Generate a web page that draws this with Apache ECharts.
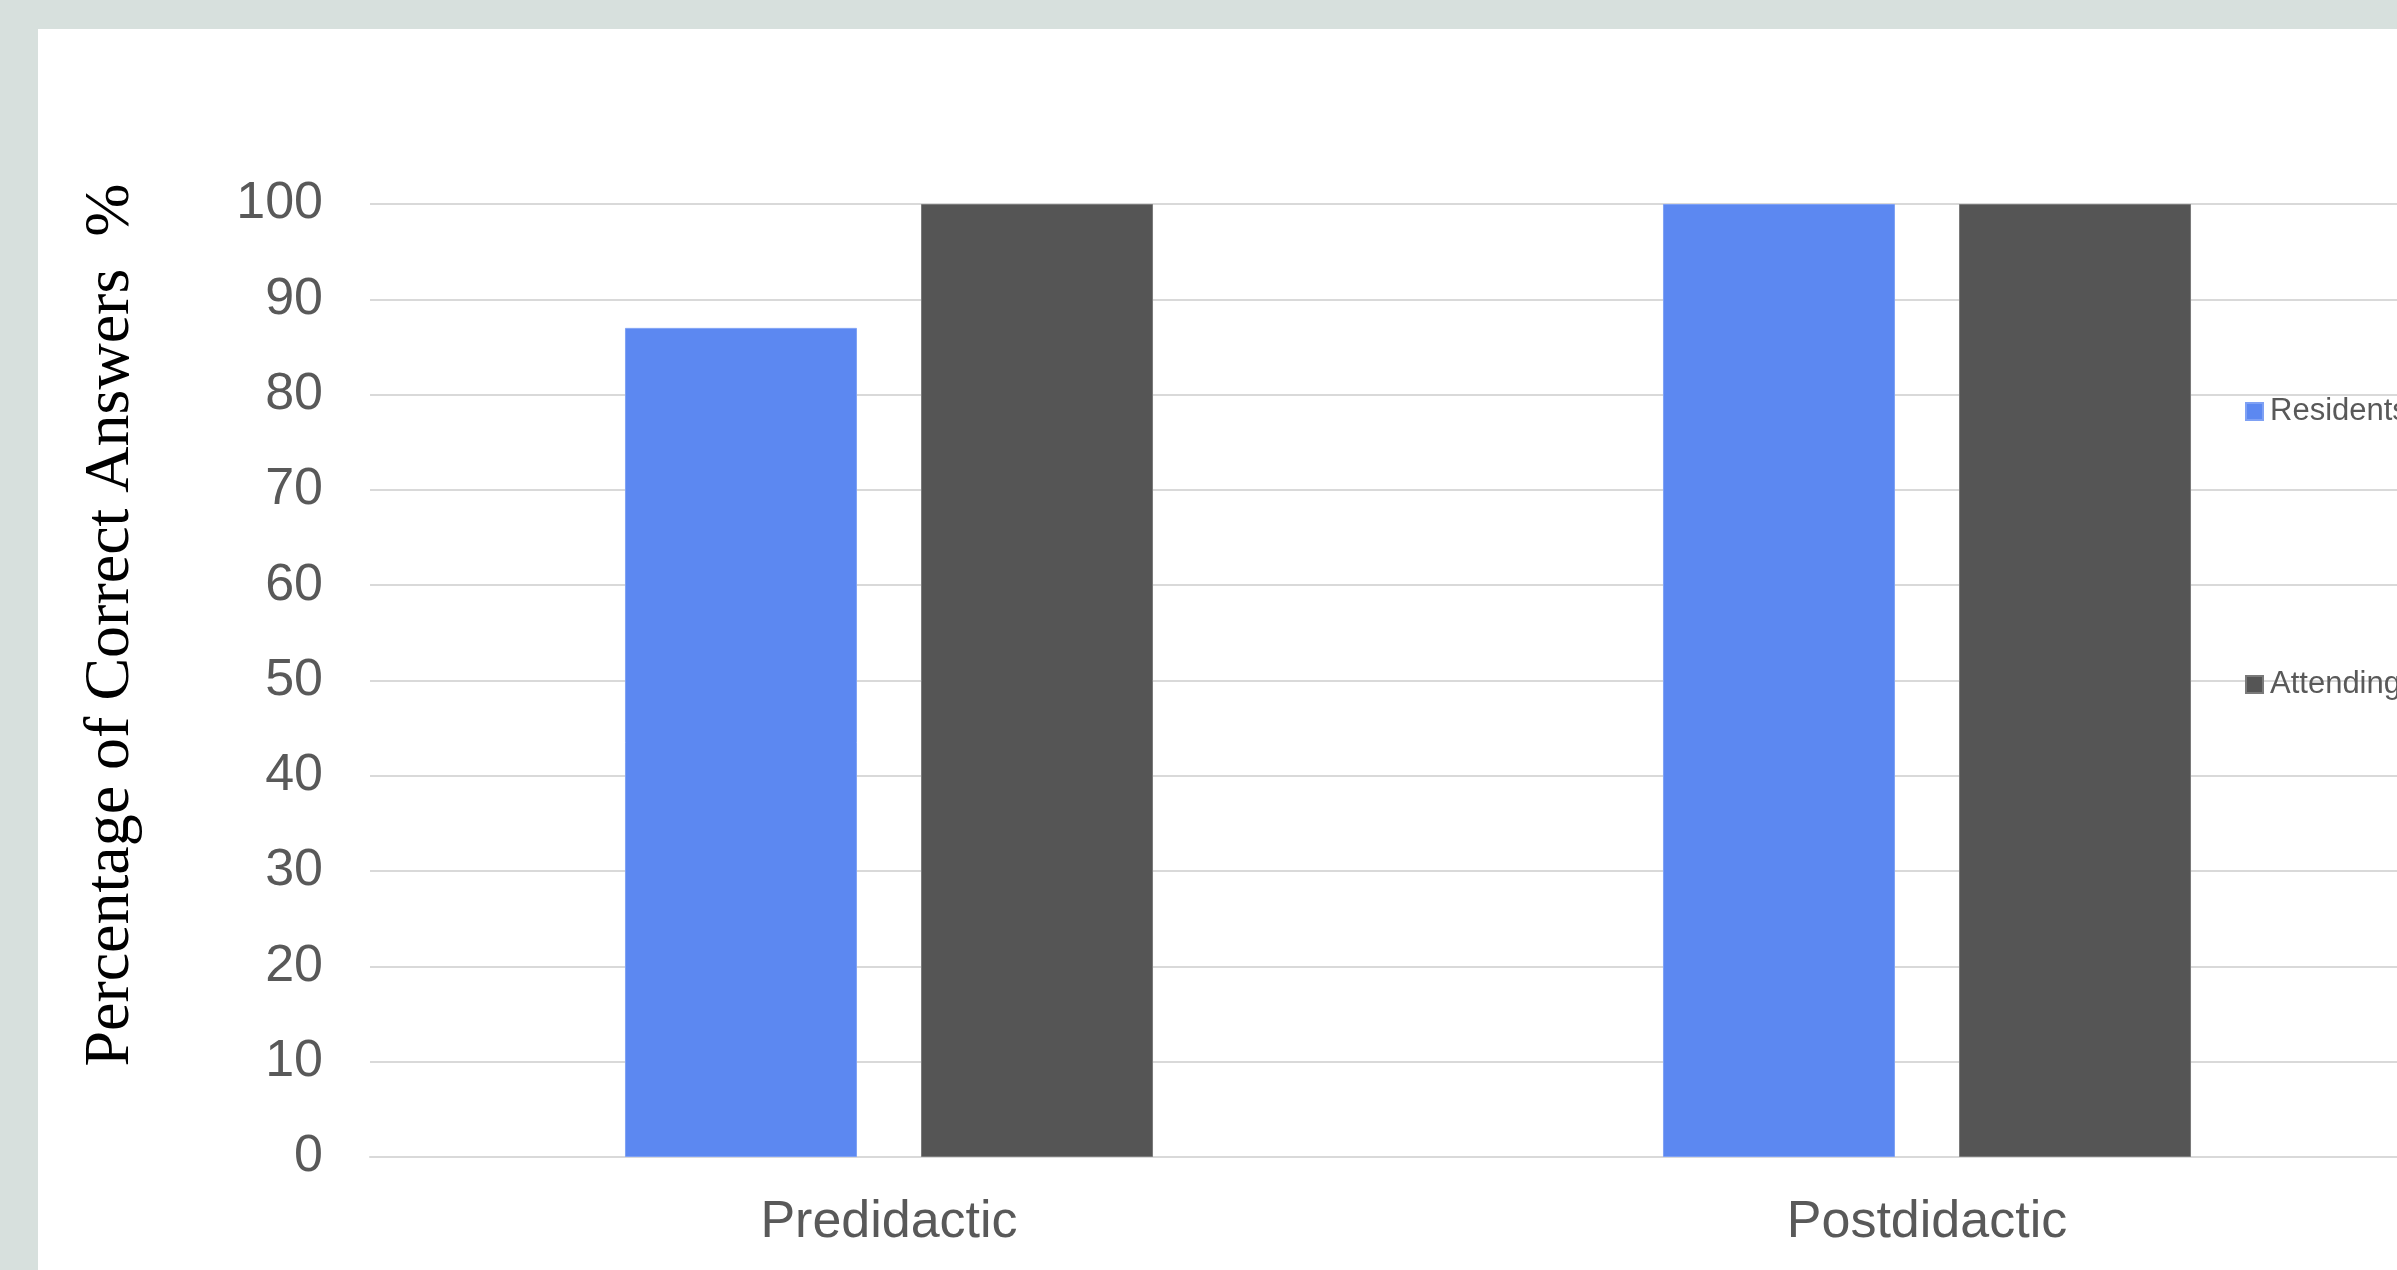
<!DOCTYPE html>
<html>
<head>
<meta charset="utf-8">
<title>Percentage of Correct Answers</title>
<script src="https://cdn.jsdelivr.net/npm/echarts@6/dist/echarts.min.js"></script>
<style>
  html, body { margin: 0; padding: 0; background: #ffffff; }
  #chart { width: 2397px; height: 1270px; }
</style>
</head>
<body>
<div id="chart"></div>
<script>
// Quiz results before and after the didactic session
const categories = ['Predidactic', 'Postdidactic'];
const residents = [87, 100];
const attendings = [100, 100];
const seriesNames = ['Residents', 'Attendings'];
const yTicks = { min: 0, max: 100, interval: 10 };

const SANS = '"Liberation Sans", Arial, Helvetica, sans-serif';
const SERIF = '"Liberation Serif", "Times New Roman", serif';
const LABEL_GREY = '#595959';
const GRID_GREY = '#d9d9d9';

const chart = echarts.init(document.getElementById('chart'), null, { renderer: 'canvas' });

chart.setOption({
  backgroundColor: '#ffffff',
  animation: false,
  graphic: [
    // frame bands along the top and left edges
    { type: 'rect', silent: true, shape: { x: 0, y: 0, width: 2397, height: 29 }, style: { fill: '#d7e0dd' } },
    { type: 'rect', silent: true, shape: { x: 0, y: 0, width: 38, height: 1270 }, style: { fill: '#d7e0dd' } },
    // vertical axis title
    {
      type: 'text',
      x: 111,
      y: 625,
      rotation: Math.PI / 2,
      silent: true,
      style: {
        text: 'Percentage of Correct Answers  %',
        font: '64px ' + SERIF,
        fill: '#000000',
        align: 'center',
        verticalAlign: 'middle'
      }
    }
  ],
  legend: {
    orient: 'vertical',
    left: 2245,
    top: 396,
    padding: 0,
    itemWidth: 17,
    itemHeight: 17,
    itemGap: 242,
    icon: 'rect',
    data: seriesNames,
    textStyle: {
      fontFamily: SANS,
      fontSize: 31,
      lineHeight: 30,
      color: LABEL_GREY,
      padding: [0, 0, 0, 2]
    }
  },
  grid: {
    left: 370,
    top: 204,
    width: 2076,
    bottom: 113,
    containLabel: false,
    outerBoundsMode: 'none'
  },
  xAxis: {
    type: 'category',
    data: categories,
    axisLine: { show: true, lineStyle: { color: GRID_GREY, width: 2 } },
    axisTick: { show: false },
    axisLabel: {
      fontFamily: SANS,
      fontSize: 52,
      color: LABEL_GREY,
      margin: 40
    },
    splitLine: { show: false }
  },
  yAxis: {
    type: 'value',
    min: yTicks.min,
    max: yTicks.max,
    interval: yTicks.interval,
    axisLine: { show: false },
    axisTick: { show: false },
    axisLabel: {
      fontFamily: SANS,
      fontSize: 52,
      color: LABEL_GREY,
      margin: 47
    },
    splitLine: { show: true, lineStyle: { color: GRID_GREY, width: 2 } }
  },
  series: [
    {
      name: seriesNames[0],
      type: 'bar',
      data: residents,
      barWidth: 232,
      barGap: '27.6%',
      itemStyle: { color: '#5c88f1', borderColor: '#7fa1f4', borderWidth: 1 }
    },
    {
      name: seriesNames[1],
      type: 'bar',
      data: attendings,
      barWidth: 232,
      barGap: '27.6%',
      itemStyle: { color: '#555555', borderColor: '#7a7a7a', borderWidth: 1 }
    }
  ]
});
</script>
</body>
</html>
